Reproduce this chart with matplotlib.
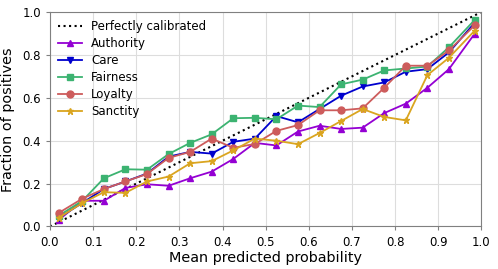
import numpy as np
import matplotlib
matplotlib.use("Agg")
import matplotlib.pyplot as plt

# mean predicted probability per bin
mean_pred = [0.02, 0.075, 0.125, 0.175, 0.225, 0.275, 0.325, 0.375, 0.425, 0.475,
             0.525, 0.575, 0.625, 0.675, 0.725, 0.775, 0.825, 0.875, 0.925, 0.985]

authority = [0.03, 0.12, 0.12, 0.18, 0.197, 0.19, 0.225, 0.256, 0.315, 0.39,
             0.378, 0.443, 0.47, 0.455, 0.461, 0.529, 0.573, 0.647, 0.734, 0.90]
care = [0.04, 0.11, 0.175, 0.21, 0.247, 0.326, 0.348, 0.34, 0.395, 0.41,
        0.515, 0.486, 0.548, 0.61, 0.653, 0.672, 0.722, 0.734, 0.812, 0.951]
fairness = [0.05, 0.12, 0.225, 0.267, 0.265, 0.338, 0.39, 0.43, 0.505, 0.507,
            0.50, 0.564, 0.557, 0.663, 0.685, 0.728, 0.737, 0.746, 0.836, 0.964]
loyalty = [0.063, 0.13, 0.175, 0.21, 0.245, 0.32, 0.348, 0.41, 0.367, 0.385,
           0.446, 0.473, 0.542, 0.542, 0.551, 0.647, 0.75, 0.75, 0.821, 0.939]
sanctity = [0.04, 0.11, 0.16, 0.157, 0.21, 0.233, 0.295, 0.305, 0.355, 0.41,
            0.40, 0.384, 0.436, 0.492, 0.548, 0.511, 0.495, 0.706, 0.787, 0.914]

series = [
    ("Authority", authority, "darkviolet", "^"),
    ("Care", care, "mediumblue", "v"),
    ("Fairness", fairness, "mediumseagreen", "s"),
    ("Loyalty", loyalty, "indianred", "o"),
    ("Sanctity", sanctity, "goldenrod", "*"),
]

fig = plt.figure(figsize=(4.98, 2.69), dpi=100)
ax = fig.add_axes([0.1004, 0.158, 0.866, 0.797])

ax.plot([0, 1], [0, 1], "k:", label="Perfectly calibrated")
for name, vals, color, marker in series:
    ax.plot(mean_pred, vals, marker=marker, color=color, label=name,
            markersize=5, linewidth=1.3)

ax.set_xlim(0, 1)
ax.set_ylim(0, 1)
ax.set_xticks(np.arange(0, 1.01, 0.1))
ax.set_yticks(np.arange(0, 1.01, 0.2))
ax.tick_params(labelsize=8.5, length=3, color="gray")
ax.grid(True, color="#dddddd", linewidth=0.8)
for sp in ax.spines.values():
    sp.set_color("gray")
ax.set_xlabel("Mean predicted probability", fontsize=10.4, labelpad=2)
ax.set_ylabel("Fraction of positives", fontsize=10.4, labelpad=5)
ax.legend(loc="upper left", fontsize=8.5, frameon=False, handlelength=2.0,
          labelspacing=0.33, borderaxespad=0.3)

fig.savefig("out.png", dpi=100)
